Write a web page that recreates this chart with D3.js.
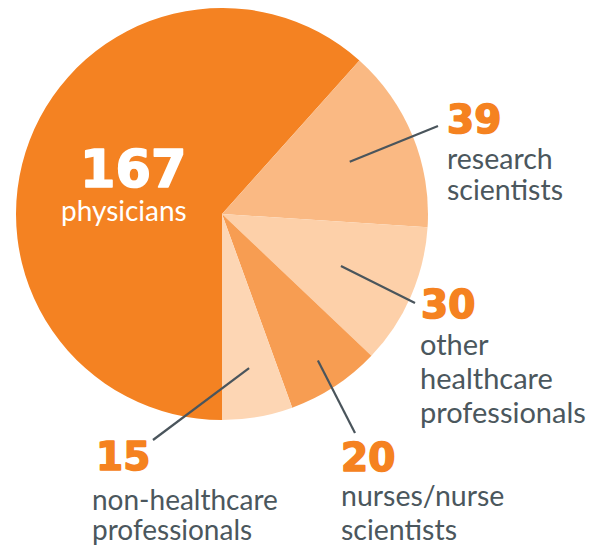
<!DOCTYPE html>
<html>
<head>
<meta charset="utf-8">
<script src="https://cdn.jsdelivr.net/npm/d3@7"></script>
<style>
  html, body { margin: 0; padding: 0; background: #ffffff; }
  svg { display: block; }
  .num { font-family: "DejaVu Sans", Lato, sans-serif; font-weight: 700; }
  .lbl { font-family: Lato, "Open Sans", sans-serif; font-weight: 400; }
</style>
</head>
<body>
<svg id="chart" width="603" height="546"></svg>
<script>
// ---- data ----
const categories = ["physicians", "research scientists", "other healthcare professionals", "nurses/nurse scientists", "non-healthcare professionals"];
const values = [167, 39, 30, 20, 15];
const labelLines = [
  ["physicians"],
  ["research", "scientists"],
  ["other", "healthcare", "professionals"],
  ["nurses/nurse", "scientists"],
  ["non-healthcare", "professionals"]
];
const colors = ["#F48222", "#FAB983", "#FDD0A9", "#F79D52", "#FDD6B4"];

// ---- layout ----
const cx = 222, cy = 214, R = 206;
const svg = d3.select("#chart");
const g = svg.append("g").attr("transform", `translate(${cx},${cy})`);

const pie = d3.pie().sort(null).value(d => d).startAngle(Math.PI).endAngle(3 * Math.PI);
const arcs = pie(values);
const arc = d3.arc().innerRadius(0).outerRadius(R);

g.selectAll("path.slice")
  .data(arcs)
  .join("path")
  .attr("class", "slice")
  .attr("d", arc)
  .attr("fill", (d, i) => colors[i]);

// label placement (annotation layout)
const labelPos = [
  { x: 80,  y: 187, numSize: 51, lx: 61,  ly: 221, fs: 28, white: true },
  { x: 447, y: 133, numSize: 39, lx: 447, ly: 169, lh: 31, fs: 28.5 },
  { x: 421, y: 318, numSize: 39, lx: 420, ly: 355, lh: 34, fs: 29 },
  { x: 341, y: 471, numSize: 39, lx: 341, ly: 506, lh: 34, fs: 28.5 },
  { x: 96,  y: 470, numSize: 39, lx: 92,  ly: 510, lh: 30, fs: 28 }
];
// leader lines: inner radius factor and outer end point
const leaders = [
  null,
  { rf: 0.67, ex: 438, ey: 126 },
  { rf: 0.63, ex: 415, ey: 303 },
  { rf: 0.85, ex: 355, ey: 433 },
  { rf: 0.76, ex: 153, ey: 440 }
];

const lineColor = "#4A555C";
arcs.forEach((a, i) => {
  const L = leaders[i];
  if (!L) return;
  const mid = (a.startAngle + a.endAngle) / 2;
  const x0 = cx + Math.sin(mid) * R * L.rf;
  const y0 = cy - Math.cos(mid) * R * L.rf;
  svg.append("line")
    .attr("x1", x0).attr("y1", y0)
    .attr("x2", L.ex).attr("y2", L.ey)
    .attr("stroke", lineColor)
    .attr("stroke-width", 2.2);
});

// labels
arcs.forEach((a, i) => {
  const p = labelPos[i];
  const c = p.white ? "#ffffff" : "#F58220";
  svg.append("text")
    .attr("class", "num")
    .attr("x", p.x).attr("y", p.y)
    .attr("font-size", p.numSize)
    .attr("fill", c)
    .attr("stroke", c)
    .attr("stroke-width", 1.6)
    .attr("stroke-linejoin", "round")
    .text(values[i]);
  const t = svg.append("text")
    .attr("class", "lbl")
    .attr("x", p.lx).attr("y", p.ly)
    .attr("font-size", p.fs)
    .attr("fill", p.white ? "#ffffff" : "#4B575D");
  labelLines[i].forEach((s, k) => {
    t.append("tspan")
      .attr("x", p.lx)
      .attr("y", p.ly + k * (p.lh || 30))
      .text(s);
  });
});
</script>
</body>
</html>
